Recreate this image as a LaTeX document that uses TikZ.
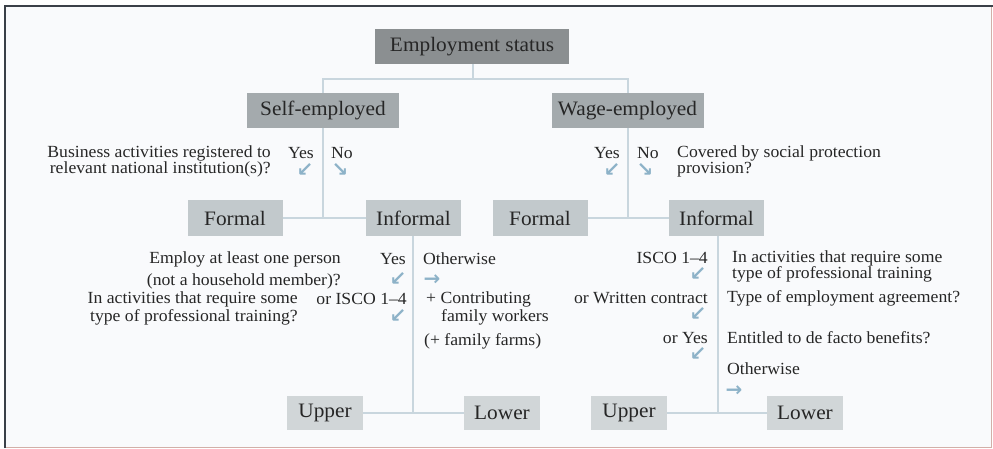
\documentclass[tikz,border=0pt]{standalone}
\usepackage{fontspec}
\setmainfont{Liberation Serif}[FakeStretch=1.04]
\newfontfamily\symfont{DejaVu Sans}
\definecolor{bgc}{HTML}{F9FAFC}
\definecolor{esfill}{HTML}{8B8F91}
\definecolor{sefill}{HTML}{A4AAAD}
\definecolor{ffill}{HTML}{C2C9CC}
\definecolor{ufill}{HTML}{D1D6D8}
\definecolor{connc}{HTML}{C9D6DE}
\definecolor{arrc}{HTML}{8DB2C8}
\definecolor{txt}{HTML}{262626}
\definecolor{frdark}{HTML}{3A4048}
\definecolor{frred}{HTML}{D2AFA8}
\begin{document}
\begin{tikzpicture}[x=1pt,y=-1pt,
  box/.style={inner sep=0pt, text=txt, font=\fontsize{20.5}{23}\selectfont},
  boxA/.style={box, fill=esfill, minimum width=194pt, minimum height=35pt},
  boxB/.style={box, fill=sefill, minimum width=152pt, minimum height=35pt},
  boxC/.style={box, fill=ffill, minimum width=95pt, minimum height=36pt},
  boxD/.style={box, fill=ufill, minimum width=76pt, minimum height=34pt},
  lbl/.style={inner sep=0pt, text=txt, font=\fontsize{17}{19}\selectfont},
  arr/.style={inner sep=0pt, text=arrc, text height=9pt, text depth=0pt,
    font=\symfont\bfseries\fontsize{20}{21}\selectfont},
  conn/.style={draw=connc, line width=2pt}]
\useasboundingbox (0,0) rectangle (993,449);
% frame
\fill[bgc] (5,7) rectangle (991,447);
\draw[frred, line width=1pt] (5,447) -- (991,447) -- (991,7);
\draw[frdark, line width=2pt] (5,448) -- (5,6.5) -- (993,6.5);

% boxes
\node[boxA] (es) at (472,46.5) {Employment status};
\node[boxB] (se) at (323,110.5) {Self-employed};
\node[boxB] (we) at (627.5,110.5) {Wage-employed};
\node[boxC] (fl) at (235,218) {Formal};
\node[boxC] (il) at (413.5,218) {Informal};
\node[boxC] (fr) at (540,218) {Formal};
\node[boxC] (ir) at (716.5,218) {Informal};
\node[boxD] (ul) at (325,413) {Upper};
\node[boxD] (ll) at (502,413) {Lower};
\node[boxD] (ur) at (629,413) {Upper};
\node[boxD] (lr) at (805,413) {Lower};

% connectors
\coordinate (j0) at (473,79);
\coordinate (j1) at (323,218);
\coordinate (j2) at (627.5,218);
\coordinate (j3) at (413,413);
\coordinate (j4) at (718,413);
\draw[conn] (es.south -| j0) -- (j0);
\draw[conn] (se.north) -- (se.north |- j0) -- (we.north |- j0) -- (we.north);
\draw[conn] (se.south) -- (j1);
\draw[conn] (fl.east) -- (il.west);
\draw[conn] (we.south) -- (j2);
\draw[conn] (fr.east) -- (ir.west);
\draw[conn] (il.south -| j3) -- (j3);
\draw[conn] (ul.east) -- (ll.west);
\draw[conn] (ir.south -| j4) -- (j4);
\draw[conn] (ur.east) -- (lr.west);

% self-employed question
\node[lbl, anchor=east] (q1a) at (271,153) {Business activities registered to};
\node[lbl, anchor=east] (q1b) at (271,169) {relevant national institution(s)?};
\node[lbl, anchor=east] (y1) at (314,153) {Yes};
\node[lbl, anchor=west] (n1) at (331,153) {No};
\node[arr] (a1) at (305,172) {↙};
\node[arr] (a2) at (340,172) {↘};

% wage-employed question
\node[lbl, anchor=east] (y2) at (620,153) {Yes};
\node[lbl, anchor=west] (n2) at (637,153) {No};
\node[arr] (a3) at (612,172) {↙};
\node[arr] (a4) at (645,172) {↘};
\node[lbl, anchor=west] (q2a) at (677,153) {Covered by social protection};
\node[lbl, anchor=west] (q2b) at (677,170) {provision?};

% left informal
\node[lbl, anchor=east] (q3a) at (341,259) {Employ at least one person};
\node[lbl, anchor=east] (q3b) at (341,281) {(not a household member)?};
\node[lbl, anchor=east] (y3) at (406,259) {Yes};
\node[arr] (a5) at (398,281) {↙};
\node[lbl, anchor=west] (o1) at (423,259) {Otherwise};
\node[arr] (a6) at (432,281) {→};
\node[lbl, anchor=east] (q4a) at (298,299) {In activities that require some};
\node[lbl, anchor=east] (q4b) at (298,317) {type of professional training?};
\node[lbl, anchor=east] (is1) at (407,299) {or ISCO 1–4};
\node[arr] (a7) at (398,318) {↙};
\node[lbl, anchor=west] (c1) at (426,299) {+ Contributing};
\node[lbl, anchor=west] (c2) at (441,317) {family workers};
\node[lbl, anchor=west] (c3) at (424,341) {(+ family farms)};

% right informal
\node[lbl, anchor=east] (is2) at (708,258) {ISCO 1–4};
\node[arr] (a8) at (698,276) {↙};
\node[lbl, anchor=west] (q5a) at (732,258) {In activities that require some};
\node[lbl, anchor=west] (q5b) at (732,274) {type of professional training};
\node[lbl, anchor=east] (wc) at (708,298) {or Written contract};
\node[lbl, anchor=west] (q6) at (727,298) {Type of employment agreement?};
\node[arr] (a9) at (698,316) {↙};
\node[lbl, anchor=east] (oy) at (708,338) {or Yes};
\node[lbl, anchor=west] (q7) at (727,338) {Entitled to de facto benefits?};
\node[arr] (a10) at (698,356) {↙};
\node[lbl, anchor=west] (o2) at (727,369) {Otherwise};
\node[arr] (a11) at (734,392) {→};
\end{tikzpicture}
\end{document}
